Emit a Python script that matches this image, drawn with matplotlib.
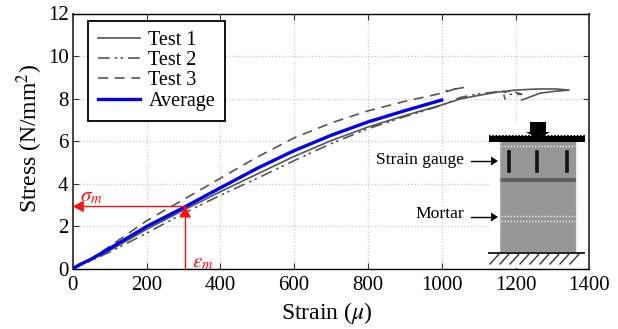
import matplotlib
matplotlib.use("Agg")
import matplotlib.pyplot as plt
from matplotlib.patches import Rectangle, Polygon
from matplotlib.lines import Line2D

plt.rcParams['font.family'] = ['Liberation Serif', 'DejaVu Serif']
plt.rcParams['mathtext.fontset'] = 'stix'

test1_x = [0, 20, 50, 100, 200, 300, 400, 500, 600, 700, 800, 900, 1000, 1050, 1100, 1150, 1200, 1260, 1310, 1345, 1300, 1266, 1240, 1217]
test1_y = [0, 0.2, 0.42, 0.85, 1.85, 2.75, 3.62, 4.45, 5.28, 6.02, 6.66, 7.2, 7.7, 7.98, 8.15, 8.3, 8.4, 8.45, 8.45, 8.4, 8.33, 8.25, 8.08, 7.93]
test2_x = [0, 50, 100, 200, 300, 400, 500, 600, 700, 800, 900, 1000, 1050, 1100, 1150, 1190, 1217, 1185, 1166, 1172]
test2_y = [0, 0.38, 0.78, 1.67, 2.6, 3.45, 4.25, 5.08, 5.88, 6.58, 7.15, 7.68, 8.05, 8.22, 8.32, 8.35, 8.2, 8.2, 8.35, 7.95]
test3_x = [0, 50, 100, 200, 300, 400, 500, 600, 700, 800, 900, 1000, 1040, 1058, 1030, 1010]
test3_y = [0, 0.45, 1.05, 2.25, 3.25, 4.25, 5.25, 6.15, 6.85, 7.42, 7.87, 8.25, 8.48, 8.52, 8.42, 8.35]
avg_x = [0, 20, 50, 100, 200, 300, 400, 500, 600, 700, 800, 900, 1000]
avg_y = [0, 0.2, 0.45, 0.95, 1.98, 2.87, 3.8, 4.72, 5.55, 6.27, 6.9, 7.43, 7.93]
peak_strain = 305
peak_stress = 2.93
x_ticks = [0, 200, 400, 600, 800, 1000, 1200, 1400]
y_ticks = [0, 2, 4, 6, 8, 10, 12]

W, H = 618, 329
fig = plt.figure(figsize=(W / 100, H / 100), dpi=100)
L, R, T, B = 72.7, 589.3, 13.5, 268.7
ax = fig.add_axes([L / W, 1 - B / H, (R - L) / W, (B - T) / H])
ax.set_xlim(0, 1400)
ax.set_ylim(0, 12)
ax.set_xticks(x_ticks)
ax.set_yticks(y_ticks)
ax.tick_params(direction='in', top=True, right=True, labelsize=15, length=4, width=0.8, color='#333333', pad=3)
ax.tick_params(axis='x', pad=5)
ax.grid(True, color='#c8c8c8', linestyle=':', linewidth=0.9)
ax.set_axisbelow(True)
for s in ('left', 'right'):
    ax.spines[s].set_color('#444444')
    ax.spines[s].set_linewidth(1.4)
ax.spines['top'].set_linewidth(1.0)
ax.spines['bottom'].set_linewidth(1.0)
ax.spines['top'].set_color('black')
ax.spines['bottom'].set_color('black')

ax.set_xlabel(r'Strain ($\mu$)', fontsize=17, labelpad=4, x=0.492)
ax.set_ylabel(r'Stress (N/mm$^2$)', fontsize=17, labelpad=2, y=0.512)

grey = '#555555'
ax.plot(test1_x, test1_y, color=grey, lw=1.2, label='Test 1', zorder=3)
ax.plot(test2_x, test2_y, color=grey, lw=1.2, ls=(0, (7, 3, 1.5, 2, 1.5, 3)), label='Test 2', zorder=3)
ax.plot(test3_x, test3_y, color=grey, lw=1.2, ls=(0, (6, 4)), label='Test 3', zorder=3)
ax.plot(avg_x, avg_y, color='#0000ee', lw=2.4, label='Average', zorder=4)

leg = ax.legend(loc='upper left', bbox_to_anchor=((88 - L) / (R - L), (B - 20.5) / (B - T)),
                fontsize=14.5, fancybox=False, framealpha=1, edgecolor='black',
                borderaxespad=0, handlelength=2.1, labelspacing=0.06, borderpad=0.5, handletextpad=0.4)
leg.get_frame().set_linewidth(1.3)

# Red guide lines and arrowheads
red = '#ff1010'
ax.plot([0, peak_strain], [peak_stress, peak_stress], color=red, lw=1.0, zorder=5)
ax.plot([peak_strain, peak_strain], [0, peak_stress], color=red, lw=1.0, zorder=5)
head = 'simple,head_length=0.8,head_width=0.85,tail_width=0.01'
ax.annotate('', xy=(0, peak_stress), xytext=(40, peak_stress),
            arrowprops=dict(arrowstyle=head, color=red, lw=0, shrinkA=0, shrinkB=0), zorder=6)
ax.annotate('', xy=(peak_strain, peak_stress), xytext=(peak_strain, peak_stress - 0.7),
            arrowprops=dict(arrowstyle=head, color=red, lw=0, shrinkA=0, shrinkB=0), zorder=6)
ax.text(20, 2.95, r'$\sigma_m$', color=red, fontsize=15, va='bottom', ha='left', zorder=6)
ax.text(322, -0.17, r'$\varepsilon_m$', color=red, fontsize=15, va='bottom', ha='left', zorder=6)

# Inset specimen diagram, placed in pixel coordinates of the reference
def fx(p):
    return p / W
def fy(p):
    return 1 - p / H
tr = fig.transFigure
def rect(x0, y0, x1, y1, z, **kw):
    fig.add_artist(Rectangle((fx(x0), fy(y1)), fx(x1) - fx(x0), fy(y0) - fy(y1), transform=tr, zorder=z, **kw))
def line(xs, ys, z, **kw):
    fig.add_artist(Line2D([fx(v) for v in xs], [fy(v) for v in ys], transform=tr, zorder=z, **kw))

rect(489, 122, 588.4, 268, 5, fc='white', ec='none')
rect(500, 142, 576, 253, 6, fc='#969696', ec='none')
rect(500, 178, 576, 182, 7, fc='#5f5f5f', ec='none')
rect(489, 136, 585, 142, 7, fc='black', ec='none')
line([489, 585], [135.5, 135.5], 7, color='black', lw=1.3, ls=(0, (1, 0.8)))
for yy in (146, 216, 221):
    line([501, 575], [yy, yy], 8, color='#e8e8e8', lw=1.0, ls=(0, (1, 1.2)))
for xx in (500, 576):
    line([xx, xx], [142, 253], 8, color='#d0d0d0', lw=0.9, ls=(0, (1, 1.2)))
for xx in (509, 537, 567):
    line([xx, xx], [152, 171], 8, color='#111111', lw=2.6)
rect(530, 122, 546, 132, 8, fc='black', ec='none')
fig.add_artist(Polygon([(fx(526), fy(132)), (fx(550), fy(132)), (fx(538), fy(139))], transform=tr, fc='black', ec='none', zorder=8))
line([489, 584], [253, 253], 8, color='#222222', lw=1.4)
for xx in range(490, 575, 10):
    line([xx, xx + 9], [264, 254], 8, color='#333333', lw=1.0)
for yy in (161, 217):
    line([471, 491], [yy, yy], 8, color='black', lw=1.0)
    fig.add_artist(Polygon([(fx(491), fy(yy - 4.5)), (fx(498), fy(yy)), (fx(491), fy(yy + 4.5))], transform=tr, fc='black', ec='none', zorder=8))
fig.text(fx(464), fy(160), 'Strain gauge', fontsize=12.6, ha='right', va='center', zorder=8)
fig.text(fx(464), fy(214), 'Mortar', fontsize=12.6, ha='right', va='center', zorder=8)

fig.savefig('out.png', dpi=100)
